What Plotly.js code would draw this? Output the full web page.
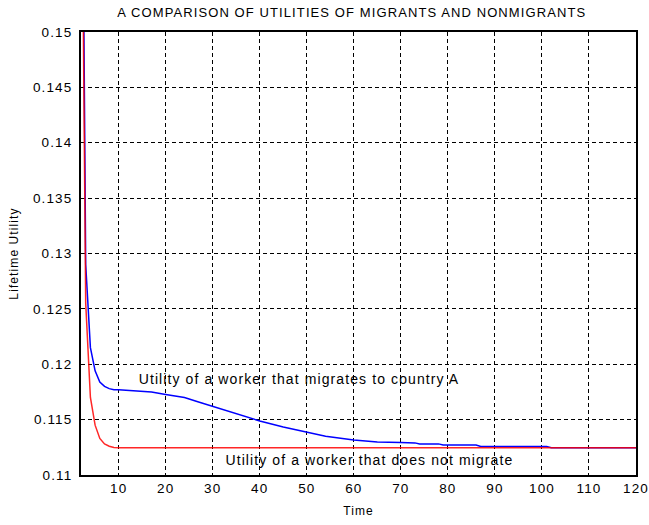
<!DOCTYPE html>
<html>
<head>
<meta charset="utf-8">
<script src="https://cdn.plot.ly/plotly-3.0.1.min.js"></script>
<style>
html,body{margin:0;padding:0;background:#fff;}
#chart{width:649px;height:525px;}
#chart svg text{letter-spacing:1.1px;}
</style>
</head>
<body>
<div id="chart"></div>
<script>
// Utility of a worker that migrates to country A (blue)
var migrantTime = [2, 3, 4, 5, 6, 7, 8, 9, 10, 13, 17, 20, 24, 27, 30, 34, 37, 40, 45, 50, 54, 60, 65, 70, 73, 74, 78, 79, 86, 87, 101, 102, 120];
var migrantUtility = [0.185, 0.1290, 0.1215, 0.1194, 0.1184, 0.1180, 0.1178, 0.1177, 0.1177, 0.1176, 0.1175, 0.11727, 0.1170, 0.1166, 0.1162, 0.1157, 0.1153, 0.11488, 0.11433, 0.11387, 0.1135, 0.11316, 0.11298, 0.11293, 0.1129, 0.11281, 0.11281, 0.1127, 0.1127, 0.11257, 0.11257, 0.11246, 0.11246];

// Utility of a worker that does not migrate (red)
var stayerTime = [2, 3, 4, 5, 6, 7, 8, 9, 10, 120];
var stayerUtility = [0.175, 0.1255, 0.1170, 0.1145, 0.1133, 0.1128, 0.1126, 0.11248, 0.11246, 0.11246];

var xTicks = [10, 20, 30, 40, 50, 60, 70, 80, 90, 100, 110, 120];
var yTicks = [0.11, 0.115, 0.12, 0.125, 0.13, 0.135, 0.14, 0.145, 0.15];
var yTickText = ["0.11", "0.115", "0.12", "0.125", "0.13", "0.135", "0.14", "0.145", "0.15"];

var FONT = "Liberation Sans, Arial, Helvetica, sans-serif";

var traces = [
  {x: migrantTime, y: migrantUtility, mode: 'lines', line: {color: '#0000ff', width: 1.5}, hoverinfo: 'none', showlegend: false},
  {x: stayerTime, y: stayerUtility, mode: 'lines', line: {color: '#ff0000', width: 1.5}, opacity: 0.85, hoverinfo: 'none', showlegend: false}
];

var layout = {
  width: 649, height: 525,
  margin: {l: 81, r: 13, t: 32, b: 50},
  paper_bgcolor: '#ffffff', plot_bgcolor: '#ffffff',
  font: {family: FONT, size: 13, color: '#000000'},
  title: {text: 'A COMPARISON OF UTILITIES OF MIGRANTS AND NONMIGRANTS', font: {family: FONT, size: 13, color: '#000'},
          x: 0.542, xanchor: 'center', y: 0.977, yanchor: 'middle', yref: 'container', xref: 'container'},
  xaxis: {
    range: [2, 120], tickvals: xTicks, ticktext: xTicks.map(String),
    showgrid: true, gridcolor: '#000000', gridwidth: 1, griddash: '4px,3px',
    showline: true, linecolor: '#000000', linewidth: 2, mirror: true,
    zeroline: false, ticks: '', tickfont: {family: FONT, size: 13.5},
    title: {text: 'Time', font: {family: FONT, size: 12}, standoff: 11}
  },
  yaxis: {
    range: [0.11, 0.15], tickvals: yTicks, ticktext: yTickText,
    showgrid: true, gridcolor: '#000000', gridwidth: 1, griddash: '4px,3px',
    showline: true, linecolor: '#000000', linewidth: 2, mirror: true,
    zeroline: false, ticks: '', tickfont: {family: FONT, size: 13.5}, ticklabelstandoff: 4,
    title: {text: 'Lifetime Utility', font: {family: FONT, size: 12}, standoff: 17}
  },
  annotations: [
    {x: 48.4, y: 0.1187, xref: 'x', yref: 'y', text: 'Utility of a worker that migrates to country A', showarrow: false,
     xanchor: 'center', yanchor: 'middle', font: {family: FONT, size: 14, color: '#000'}},
    {x: 63.3, y: 0.1114, xref: 'x', yref: 'y', text: 'Utility of a worker that does not migrate', showarrow: false,
     xanchor: 'center', yanchor: 'middle', font: {family: FONT, size: 14, color: '#000'}}
  ]
};

Plotly.newPlot('chart', traces, layout, {staticPlot: true, displayModeBar: false});
</script>
</body>
</html>
